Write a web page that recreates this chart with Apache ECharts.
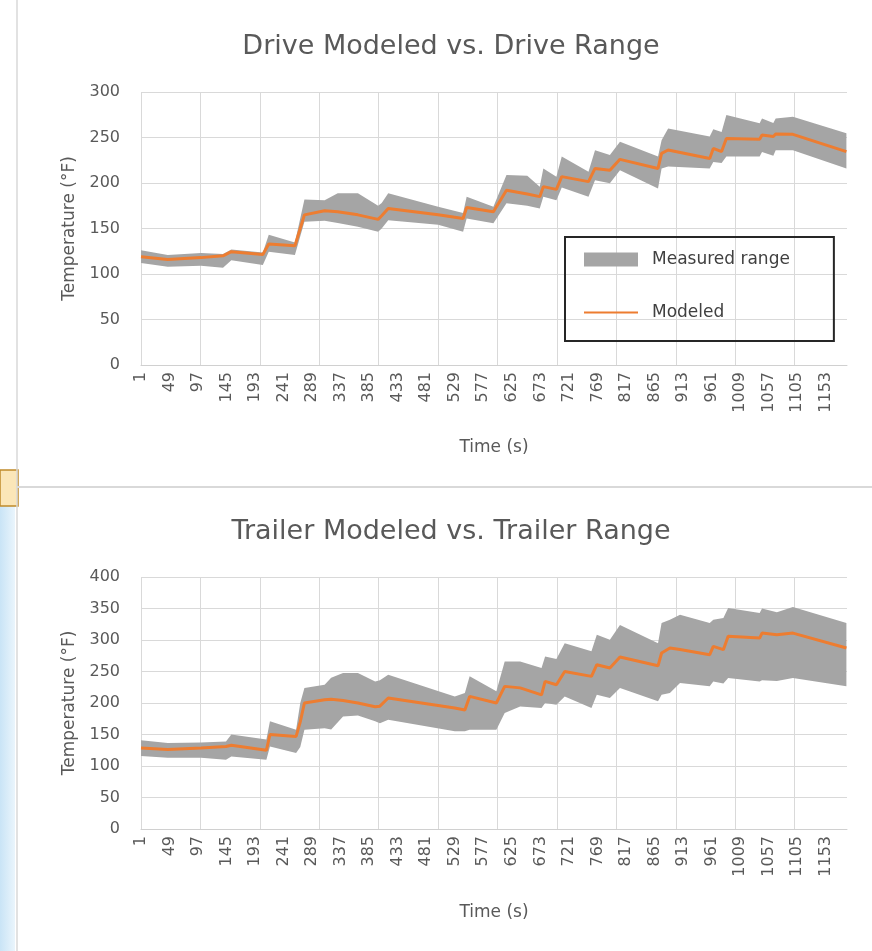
<!DOCTYPE html>
<html>
<head>
<meta charset="utf-8">
<title>Drive / Trailer modeled vs range</title>
<script src="https://cdn.jsdelivr.net/npm/echarts/dist/echarts.min.js"></script>
<style>
  html, body { margin: 0; padding: 0; background: #fff; }
  #main { width: 872px; height: 951px; }
</style>
</head>
<body>
<div id="main"></div>
<script>
// time offsets (s - 1) where the curves change slope
var driveTime  = [0, 45, 101, 138, 152, 205, 215, 259, 275, 309, 331, 365, 399, 405, 416, 500, 542, 548, 593, 615, 650, 671, 677, 699, 708, 753, 764, 789, 806, 870, 876, 887, 957, 963, 977, 985, 1041, 1045, 1064, 1068, 1097, 1187];
var driveLow   = [112, 108, 109, 107, 115, 110, 124.5, 121, 157.5, 158.5, 156, 152, 146.5, 150, 159, 154, 146.5, 161, 155.7, 177.7, 175, 172, 185, 181, 195, 185, 203, 199.7, 214, 194, 216, 218, 216, 223, 222, 229, 229, 234, 230, 236, 236, 216];
var driveModel = [119, 116, 118, 120, 124.5, 121.5, 133, 131, 165, 169.5, 168.5, 165, 160, 164, 172, 165, 161, 173, 168.5, 192, 188, 185, 196, 193, 207, 201.5, 216, 214, 226, 216, 232.6, 236.3, 227, 238, 234.5, 249, 248, 252.7, 251, 253.8, 253.5, 234.4];
var driveHigh  = [126, 121, 123, 122, 127, 123.5, 143, 134.5, 182, 181, 188.7, 188.7, 175, 178, 188.7, 174, 167, 185, 174, 208.8, 208, 196, 216, 207, 229, 212.4, 236, 230.8, 245.4, 229, 247, 260, 251, 259, 256, 274.7, 265.6, 271, 266, 271, 272.9, 254.6];

var trailerTime  = [0, 45, 101, 143, 152, 211, 217, 261, 268, 275, 309, 320, 340, 365, 394, 402, 416, 528, 545, 553, 598, 612, 638, 674, 680, 699, 713, 758, 767, 789, 806, 870, 876, 890, 907, 957, 963, 980, 988, 1041, 1045, 1070, 1097, 1187];
var trailerLow   = [116, 113, 113, 110, 115, 110, 131, 120.6, 130, 157.6, 160, 158, 178.7, 180, 171, 168, 173.5, 155, 155, 157.6, 157.6, 184, 194.6, 192, 200, 197.4, 210.5, 192, 213, 208, 224, 202.6, 213, 216, 231.7, 226.4, 234.3, 231, 239.7, 234.3, 236, 235, 239.7, 226.4];
var trailerModel = [128.5, 126, 128.5, 131, 133, 125, 150, 147, 170, 200, 205, 206, 204, 200, 194, 195, 208, 192, 189, 210.5, 200, 226.4, 224, 213, 234.3, 229, 250, 242.3, 260.8, 255.5, 273, 259, 279.4, 287.3, 285, 276.7, 290, 284.6, 305.8, 303, 311, 308.4, 311, 287.3];
var trailerHigh  = [141, 136.5, 137.5, 139, 150, 142, 171, 157.6, 200, 224, 229, 240, 247.6, 247.6, 234, 236, 245, 210.5, 215.8, 242.3, 218.5, 266, 266, 255.5, 274, 270, 295, 282, 308.4, 300.5, 324, 295, 327, 332, 340, 327, 332, 335, 350.8, 343, 350, 344, 352.4, 327];

var timeMax = 1188;
var labelStep = 48;
var gridStep = 100;

var txt = '#595959';
var font = 'DejaVu Sans';
var gridColor = '#d9d9d9';

function pairs(t, v) {
  var out = [];
  for (var i = 0; i < t.length; i++) out.push([t[i], v[i]]);
  return out;
}

function bandRender(t, low, high) {
  return function (params, api) {
    var pts = [];
    for (var i = 0; i < t.length; i++) pts.push(api.coord([t[i], high[i]]));
    for (var j = t.length - 1; j >= 0; j--) pts.push(api.coord([t[j], low[j]]));
    return { type: 'polygon', shape: { points: pts }, style: { fill: '#a5a5a5' } };
  };
}

function labelAxis(gridIndex, gap) {
  return {
    type: 'value', gridIndex: gridIndex, min: 0, max: timeMax, interval: labelStep,
    name: 'Time (s)', nameLocation: 'middle', nameGap: gap,
    nameTextStyle: { color: txt, fontFamily: font, fontSize: 17 },
    axisLine: { show: true, lineStyle: { color: '#d0d0d0', width: 1 } },
    axisTick: { show: false },
    splitLine: { show: false },
    axisLabel: {
      rotate: 90, margin: 7, color: txt, fontFamily: font, fontSize: 16,
      showMinLabel: true, showMaxLabel: false,
      formatter: function (v) { return String(v + 1); }
    }
  };
}

function lineAxis(gridIndex) {
  return {
    type: 'value', gridIndex: gridIndex, min: 0, max: timeMax, interval: gridStep,
    position: 'bottom',
    axisLine: { show: false }, axisTick: { show: false }, axisLabel: { show: false },
    splitLine: { show: true, showMaxLine: false, lineStyle: { color: gridColor, width: 1 } }
  };
}

function tempAxis(gridIndex, max) {
  return {
    type: 'value', gridIndex: gridIndex, min: 0, max: max, interval: 50,
    name: 'Temperature (°F)', nameLocation: 'middle', nameGap: 62, nameRotate: 90,
    nameTextStyle: { color: txt, fontFamily: font, fontSize: 17 },
    axisLine: { show: false }, axisTick: { show: false },
    axisLabel: { color: txt, fontFamily: font, fontSize: 16, margin: 21 },
    splitLine: { show: true, lineStyle: { color: gridColor, width: 1 } }
  };
}

var chart = echarts.init(document.getElementById('main'), null, { renderer: 'canvas' });

var option = {
  animation: false,
  backgroundColor: '#ffffff',
  title: [
    { text: 'Drive Modeled vs. Drive Range', left: 446, top: 28, textAlign: 'center',
      textStyle: { color: txt, fontFamily: font, fontSize: 27, fontWeight: 'normal' } },
    { text: 'Trailer Modeled vs. Trailer Range', left: 446, top: 513, textAlign: 'center',
      textStyle: { color: txt, fontFamily: font, fontSize: 27, fontWeight: 'normal' } }
  ],
  grid: [
    { left: 141, top: 92, width: 706, height: 273 },
    { left: 141, top: 577, width: 706, height: 252 }
  ],
  xAxis: [labelAxis(0, 74), lineAxis(0), labelAxis(1, 75), lineAxis(1)],
  yAxis: [tempAxis(0, 300), tempAxis(1, 400)],
  legend: {
    left: 565, top: 237, orient: 'vertical',
    data: [
      { name: 'Measured range', icon: 'rect' },
      // line only, hide the marker dot
      { name: 'Modeled', itemStyle: { color: 'rgba(0,0,0,0)', borderColor: 'rgba(0,0,0,0)', borderWidth: 0 } }
    ],
    itemWidth: 54, itemHeight: 14, itemGap: 36,
    padding: [14, 44, 20, 18],
    borderColor: '#262626', borderWidth: 2,
    textStyle: { color: '#404040', fontFamily: font, fontSize: 17, padding: [0, 0, 0, 9] }
  },
  graphic: [
    { type: 'rect', silent: true, z: -10, shape: { x: 0, y: 470, width: 15, height: 481 },
      style: { fill: new echarts.graphic.LinearGradient(0, 0, 1, 0, [
        { offset: 0, color: '#c9e4f6' }, { offset: 1, color: '#eaf5fc' }]) } },
    { type: 'rect', silent: true, shape: { x: 0, y: 470, width: 18, height: 36 },
      style: { fill: '#fbe6b8', stroke: '#c08a2a', lineWidth: 1.5 } },
    { type: 'line', silent: true, shape: { x1: 17, y1: 0, x2: 17, y2: 951 },
      style: { stroke: '#d9d9d9', lineWidth: 1.5 } },
    { type: 'line', silent: true, shape: { x1: 17, y1: 487, x2: 872, y2: 487 },
      style: { stroke: '#d9d9d9', lineWidth: 2 } }
  ],
  series: [
    {
      name: 'Measured range', type: 'custom', coordinateSystem: 'cartesian2d',
      xAxisIndex: 0, yAxisIndex: 0, itemStyle: { color: '#a5a5a5' }, z: 2,
      renderItem: bandRender(driveTime, driveLow, driveHigh),
      data: [[driveTime[0], driveLow[0]]]
    },
    {
      name: 'Modeled', type: 'line', xAxisIndex: 0, yAxisIndex: 0, z: 3,
      showSymbol: false, symbol: 'none', color: '#ed7d31',
      lineStyle: { color: '#ed7d31', width: 3 },
      data: pairs(driveTime, driveModel)
    },
    {
      name: 'Measured range', type: 'custom', coordinateSystem: 'cartesian2d',
      xAxisIndex: 2, yAxisIndex: 1, itemStyle: { color: '#a5a5a5' }, z: 2,
      renderItem: bandRender(trailerTime, trailerLow, trailerHigh),
      data: [[trailerTime[0], trailerLow[0]]]
    },
    {
      name: 'Modeled', type: 'line', xAxisIndex: 2, yAxisIndex: 1, z: 3,
      showSymbol: false, symbol: 'none', color: '#ed7d31',
      lineStyle: { color: '#ed7d31', width: 3 },
      data: pairs(trailerTime, trailerModel)
    }
  ]
};

chart.setOption(option);
</script>
</body>
</html>
